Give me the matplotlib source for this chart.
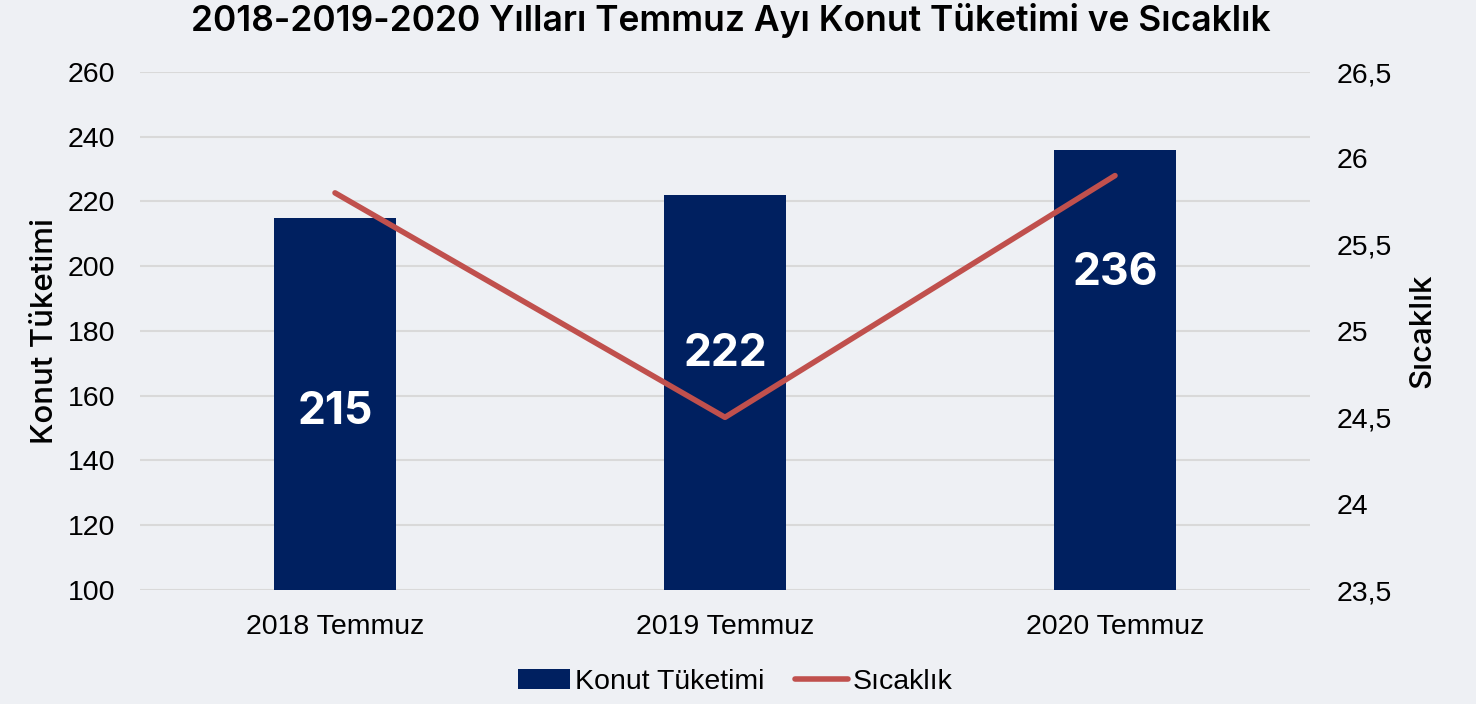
import matplotlib.pyplot as plt
import numpy as np

categories = ['2018 Temmuz', '2019 Temmuz', '2020 Temmuz']
consumption = [215, 222, 236]
temperature = [25.8, 24.5, 25.9]
# y position (in left-axis units) where each bar's number sits
label_y = [155, 173, 198]

bg = '#eef0f4'
bar_color = '#002060'
line_color = '#c0504d'
tick_font = 'Liberation Sans'
head_font = 'Inter'

fig = plt.figure(figsize=(14.76, 7.04), dpi=100, facecolor=bg)
ax = fig.add_axes([140 / 1476, 1 - 590 / 704, 1170 / 1476, 518 / 704])
ax.set_facecolor(bg)
x = np.arange(len(categories))

ax.bar(x, consumption, width=0.315, color=bar_color, zorder=2, label='Konut Tüketimi')
ax.set_ylim(100, 260)
ax.set_xlim(-0.5, 2.5)
ax.set_yticks(np.arange(100, 261, 20))
ax.grid(axis='y', color='#d9d9d9', linewidth=1.5, zorder=0)
ax.set_axisbelow(True)
for s in ax.spines.values():
    s.set_visible(False)
ax.tick_params(axis='both', length=0, labelsize=20.5, colors='#000000')
ax.tick_params(axis='y', pad=18)
ax.tick_params(axis='x', pad=17)
ax.set_xticks(x)
ax.set_xticklabels(categories, fontfamily=tick_font)
for t in ax.get_yticklabels():
    t.set_fontfamily(tick_font)
ax.set_ylabel('Konut Tüketimi', fontsize=22.5, fontfamily=head_font, fontweight='medium',
              labelpad=6)

for xi, v, ly in zip(x, consumption, label_y):
    ax.text(xi, ly, str(v), ha='center', va='center', color='white', fontsize=32,
            fontweight='bold', fontfamily=head_font, zorder=4)

ax2 = ax.twinx()
ax2.plot(x, temperature, color=line_color, linewidth=4, solid_capstyle='round',
         zorder=3, label='Sıcaklık')
ax2.set_ylim(23.5, 26.5)
ax2.set_yticks(np.arange(23.5, 26.51, 0.5))
ax2.set_yticklabels([f'{v:g}'.replace('.', ',') for v in np.arange(23.5, 26.51, 0.5)],
                    fontfamily=tick_font)
ax2.tick_params(axis='y', length=0, labelsize=20.5, pad=19)
for s in ax2.spines.values():
    s.set_visible(False)
ax2.set_ylabel('Sıcaklık', fontsize=22.5, fontfamily=head_font, fontweight='medium',
               labelpad=12)

fig.suptitle('2018-2019-2020 Yılları Temmuz Ayı Konut Tüketimi ve Sıcaklık', x=731 / 1476,
             y=1 - 20 / 704, va='center', fontsize=25.5, fontweight='semibold',
             fontfamily=head_font)

h1, l1 = ax.get_legend_handles_labels()
h2, l2 = ax2.get_legend_handles_labels()
fig.legend(h1 + h2, l1 + l2, loc='center', bbox_to_anchor=(735 / 1476, 1 - 682 / 704),
           ncol=2, frameon=False, prop={'family': tick_font, 'size': 20.5},
           handlelength=1.85, handletextpad=0.15, columnspacing=1.1)

fig.savefig('out.png', dpi=100, facecolor=bg)
